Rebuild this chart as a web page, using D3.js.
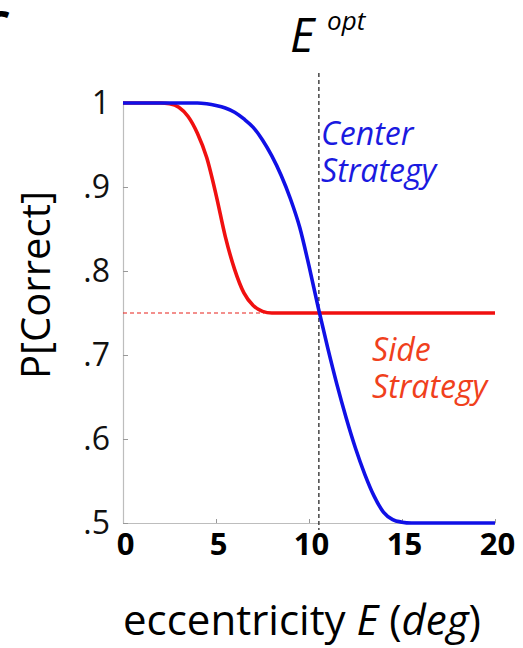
<!DOCTYPE html>
<html>
<head>
<meta charset="utf-8">
<script src="https://cdn.jsdelivr.net/npm/d3@7"></script>
<style>
  html, body { margin: 0; padding: 0; background: #fff; }
  svg { display: block; }
  text { font-family: "Open Sans", "DejaVu Sans", sans-serif; }
</style>
</head>
<body>
<script>
// ---- data ----
const eccentricity = [0, 1, 2, 2.5, 3, 3.5, 4, 4.5, 5, 5.5, 6, 6.5, 7, 7.5, 8, 8.5, 9, 9.5, 10, 10.5, 11, 11.5, 12, 12.5, 13, 13.5, 14, 14.5, 15, 15.5, 16, 17, 18, 19, 20];
const centerStrategy = [1, 1, 1, 1, 1, 1, 1, 0.999, 0.997, 0.994, 0.989, 0.981, 0.971, 0.956, 0.937, 0.914, 0.886, 0.852, 0.806, 0.756, 0.709, 0.665, 0.625, 0.589, 0.558, 0.532, 0.513, 0.504, 0.501, 0.5, 0.5, 0.5, 0.5, 0.5, 0.5];
const sideStrategy = [1, 1, 1, 0.999, 0.995, 0.984, 0.964, 0.935, 0.891, 0.841, 0.802, 0.774, 0.759, 0.752, 0.75, 0.75, 0.75, 0.75, 0.75, 0.75, 0.75, 0.75, 0.75, 0.75, 0.75, 0.75, 0.75, 0.75, 0.75, 0.75, 0.75, 0.75, 0.75, 0.75, 0.75];
const eOpt = 10.53;
const chanceSide = 0.75;
const sideDashEnd = 7.6;
const xTicks = [0, 5, 10, 15, 20];
const xTickLabels = ["0", "5", "10", "15", "20"];
const yTicks = [0.5, 0.6, 0.7, 0.8, 0.9, 1];
const yTickLabels = [".5", ".6", ".7", ".8", ".9", "1"];
const centerLabel = ["Center", "Strategy"];
const sideLabel = ["Side", "Strategy"];

// ---- layout ----
const W = 523, H = 648;
const svg = d3.select("body").append("svg").attr("width", W).attr("height", H);

const x = d3.scaleLinear().domain([0, 20]).range([123, 495]);
const y = d3.scaleLinear().domain([0.5, 1]).range([523, 103]);

// panel letter (cropped at the page edge)
svg.append("clipPath").attr("id", "panelClip")
  .append("rect").attr("x", 0).attr("y", 0).attr("width", 40).attr("height", 29);
svg.append("text").attr("x", -13).attr("y", 37).attr("clip-path", "url(#panelClip)")
  .attr("font-size", 46).attr("font-weight", "bold").attr("fill", "#000").text("c");

// axes
const axisColor = "#bdbdbd";
const gx = svg.append("g").attr("transform", `translate(0,${y(0.5)})`)
  .call(d3.axisBottom(x).tickValues(xTicks)
    .tickFormat((d, i) => xTickLabels[i]).tickSizeInner(-4).tickSizeOuter(0).tickPadding(10));
const gy = svg.append("g").attr("transform", `translate(${x(0)},0)`)
  .call(d3.axisLeft(y).tickValues(yTicks)
    .tickFormat((d, i) => yTickLabels[i]).tickSizeInner(-5).tickSizeOuter(0).tickPadding(13));

[gx, gy].forEach(g => {
  g.select(".domain").attr("stroke", axisColor).attr("stroke-width", 1.2);
  g.selectAll(".tick line").attr("stroke", "#999").attr("stroke-width", 1);
});
gx.selectAll(".tick text").attr("font-size", 31).attr("font-weight", "bold")
  .attr("fill", "#000").attr("font-family", '"Open Sans", sans-serif').attr("dx", 2);
gy.selectAll(".tick text").attr("font-size", 32)
  .attr("fill", "#111").attr("font-family", '"Open Sans", sans-serif');

// reference lines
svg.append("line")
  .attr("x1", x(0)).attr("x2", x(sideDashEnd))
  .attr("y1", y(chanceSide)).attr("y2", y(chanceSide))
  .attr("stroke", "#e8201a").attr("stroke-width", 1.2).attr("stroke-dasharray", "4,3");

svg.append("line")
  .attr("x1", x(eOpt)).attr("x2", x(eOpt))
  .attr("y1", y(1) - 30).attr("y2", y(0.5) + 7)
  .attr("stroke", "#444").attr("stroke-width", 1.5).attr("stroke-dasharray", "4,3");

// curves
const line = (vals) => d3.line()
  .x((d, i) => x(eccentricity[i]))
  .y(d => y(d))
  .curve(d3.curveMonotoneX)(vals);

svg.append("path").attr("d", line(sideStrategy))
  .attr("fill", "none").attr("stroke", "#f01010").attr("stroke-width", 3.6)
  .attr("stroke-linejoin", "round");
svg.append("path").attr("d", line(centerStrategy))
  .attr("fill", "none").attr("stroke", "#1010e6").attr("stroke-width", 3.6)
  .attr("stroke-linejoin", "round");

// labels
const cl = svg.append("text").attr("font-size", 32).attr("font-style", "italic").attr("fill", "#1a1ae0");
centerLabel.forEach((t, i) => cl.append("tspan").attr("x", 321).attr("y", 145 + i * 37).text(t));
const sl = svg.append("text").attr("font-size", 32).attr("font-style", "italic").attr("fill", "#f0401c");
sideLabel.forEach((t, i) => sl.append("tspan").attr("x", 372).attr("y", 361 + i * 37).text(t));

// E^opt
const eo = svg.append("text").attr("fill", "#000").attr("font-style", "italic");
eo.append("tspan").attr("x", 290).attr("y", 52).attr("font-size", 47).text("E");
eo.append("tspan").attr("x", 327).attr("y", 30).attr("font-size", 26).text("opt");

// axis titles
svg.append("text")
  .attr("transform", "translate(50,285) rotate(-90)")
  .attr("text-anchor", "middle").attr("font-size", 40).attr("fill", "#000")
  .text("P[Correct]");

const xt = svg.append("text").attr("x", 302).attr("y", 635)
  .attr("text-anchor", "middle").attr("font-size", 42).attr("fill", "#000");
xt.append("tspan").text("eccentricity ");
xt.append("tspan").attr("font-style", "italic").text("E");
xt.append("tspan").text(" (");
xt.append("tspan").attr("font-style", "italic").text("deg");
xt.append("tspan").text(")");
</script>
</body>
</html>
